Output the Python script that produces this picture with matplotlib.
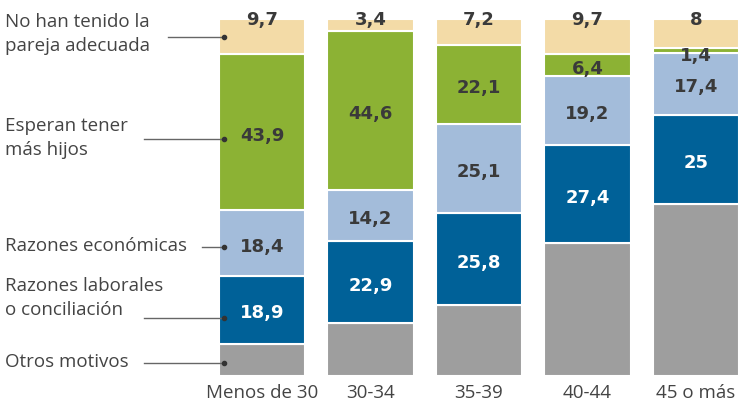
import numpy as np
import matplotlib
matplotlib.use('Agg')
import matplotlib.pyplot as plt

# data (percent)
grupos = ['Menos de 30', '30-34', '35-39', '40-44', '45 o más']
otros = [9.1, 14.9, 19.8, 37.3, 48.2]
laborales = [18.9, 22.9, 25.8, 27.4, 25.0]
economicas = [18.4, 14.2, 25.1, 19.2, 17.4]
mas_hijos = [43.9, 44.6, 22.1, 6.4, 1.4]
pareja = [9.7, 3.4, 7.2, 9.7, 8.0]

series = [
    ('Otros motivos', otros, '#9e9e9e', None),
    ('Razones laborales\no conciliación', laborales, '#006198', 'white'),
    ('Razones económicas', economicas, '#a3bcda', '#3a3a3a'),
    ('Esperan tener\nmás hijos', mas_hijos, '#8cb234', '#3a3a3a'),
    ('No han tenido la\npareja adecuada', pareja, '#f3dba7', '#3a3a3a'),
]

W, H = 750, 416
fig = plt.figure(figsize=(W / 100, H / 100), dpi=100)
ax = fig.add_axes([0, 0, 1, 1])

# pixel layout of the reference
x0_px, pitch_px = 262.0, 108.5
y0_px, unit_px = 376.0, 3.57
ax.set_xlim(-x0_px / pitch_px, (W - x0_px) / pitch_px)
ax.set_ylim((y0_px - H) / unit_px, y0_px / unit_px)
ax.axis('off')

def px2data(x, y):
    return (x - x0_px) / pitch_px, (y0_px - y) / unit_px

numfont = dict(family='DejaVu Sans', fontweight='bold', fontsize=13)
txtfont = dict(family='Open Sans', fontsize=13.5, color='#444444')

x = np.arange(len(grupos))
bottom = np.zeros(len(grupos))
for name, vals, col, lcol in series:
    vals = np.array(vals)
    ax.bar(x, vals, width=0.8, bottom=bottom, color=col,
           edgecolor='white', linewidth=1.5)
    if lcol is not None:
        for i, v in enumerate(vals):
            lab = ('%g' % v).replace('.', ',')
            if col == '#f3dba7':
                # top segment: label sits at the top of the bar
                ax.text(x[i], 100 - 0.4, lab, ha='center', va='center',
                        color=lcol, **numfont)
            elif v < 3:
                # too thin, label just below
                ax.text(x[i], bottom[i] - 1.0, lab, ha='center', va='center',
                        color=lcol, **numfont)
            else:
                ax.text(x[i], bottom[i] + v / 2 - 1, lab, ha='center',
                        va='center', color=lcol, **numfont)
    bottom = bottom + vals

for i, g in enumerate(grupos):
    ax.text(x[i], px2data(0, 393)[1], g, ha='center', va='center', **txtfont)

# left legend with leader lines
legend = [
    # text, text-y px, line start x px, line y px
    ('No han tenido la\npareja adecuada', 34, 168, 37),
    ('Esperan tener\nmás hijos', 138, 144, 139),
    ('Razones económicas', 246, 202, 247),
    ('Razones laborales\no conciliación', 298, 144, 318),
    ('Otros motivos', 362, 144, 363),
]
for txt, ty, lx, ly in legend:
    tx, tyd = px2data(5, ty)
    ax.text(tx, tyd, txt, ha='left', va='center', linespacing=1.4, **txtfont)
    xa, ya = px2data(lx, ly)
    xb, yb = px2data(224, ly)
    ax.plot([xa, xb], [ya, yb], color='#666666', linewidth=1)
    ax.plot([xb], [yb], 'o', color='#333333', markersize=3)

fig.savefig('out.png', dpi=100)
